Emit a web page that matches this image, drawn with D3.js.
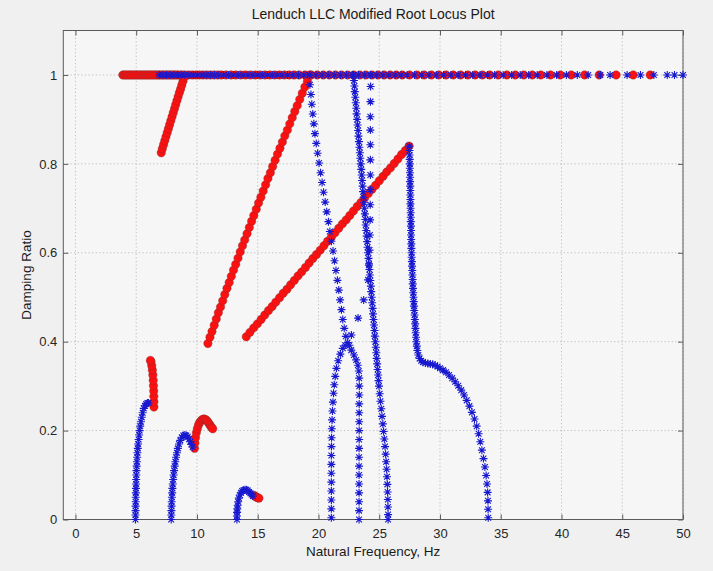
<!DOCTYPE html>
<html><head><meta charset="utf-8">
<script src="https://cdn.jsdelivr.net/npm/d3@7"></script>
<style>body{margin:0;background:#f0f0f0;} svg{display:block;}</style>
</head><body>
<svg id="chart" width="713" height="571"></svg>
<script>
// ---------- DATA (natural frequency in Hz, damping ratio) ----------
const titleText = "Lenduch LLC Modified Root Locus Plot";
const xLabelText = "Natural Frequency, Hz";
const yLabelText = "Damping Ratio";
const xTicks = [0,5,10,15,20,25,30,35,40,45,50];
const yTicks = [0,0.2,0.4,0.6,0.8,1];
const yTickLabels = ["0","0.2","0.4","0.6","0.8","1"];

// roots on the real axis (damping ratio = 1)
const redTopFreq = [3.9,4.05,4.2,4.35,4.5,4.65,4.8,4.95,5.1,5.25,5.4,5.55,5.7,5.85,6.0,6.15,6.3,6.45,6.6,6.75,6.9,7.05,7.2,7.35,7.5,7.65,7.8,7.95,8.1,8.25,8.4,8.6,8.8,9.0,9.3,9.6,9.9,10.2,10.5,10.8,11.1,11.4,11.7,12.0,12.4,12.8,13.2,13.6,14.0,14.4,14.8,15.2,15.6,16.0,16.4,16.8,17.2,17.6,18.0,18.4,18.9,19.4,19.9,20.4,20.9,21.4,21.9,22.4,22.9,23.4,23.9,24.4,24.9,25.4,25.9,26.4,26.9,27.5,28.1,28.7,29.3,29.9,30.5,31.1,31.7,32.3,32.9,33.5,34.1,34.8,35.5,36.2,36.9,37.6,38.3,39.1,39.9,40.8,41.9,43.1,44.5,45.9,47.3];
const blueTopFreq = [6.9,7.2,7.5,7.8,8.1,8.4,8.7,9.0,9.35,9.7,10.05,10.4,10.75,11.1,11.45,11.8,12.2,12.6,13.0,13.4,13.8,14.2,14.6,15.0,15.4,15.8,16.2,16.6,17.0,17.45,17.9,18.35,18.8,19.3,19.8,20.3,20.8,21.3,21.8,22.3,22.8,23.3,23.8,24.3,24.8,25.3,25.8,26.3,26.8,27.3,27.9,28.5,29.1,29.7,30.3,30.9,31.5,32.1,32.7,33.3,33.9,34.5,35.2,35.9,36.6,37.3,38.0,38.8,39.6,40.4,41.3,42.2,43.2,44.0,45.4,46.5,47.6,48.7,49.3,50.0];

// red loci (circles)
const redLoc1 = [[7.06,0.825],[7.15,0.834],[7.25,0.843],[7.35,0.852],[7.45,0.861],[7.55,0.870],[7.65,0.879],[7.75,0.888],[7.85,0.897],[7.95,0.906],[8.05,0.915],[8.15,0.924],[8.25,0.933],[8.35,0.942],[8.45,0.951],[8.55,0.960],[8.65,0.968],[8.75,0.977],[8.85,0.986],[8.95,0.995]];
const redLoc2 = [[10.90,0.396],[11.07,0.410],[11.24,0.423],[11.42,0.437],[11.59,0.451],[11.76,0.465],[11.94,0.478],[12.12,0.492],[12.29,0.506],[12.47,0.520],[12.65,0.533],[12.83,0.547],[13.01,0.561],[13.19,0.574],[13.38,0.588],[13.56,0.602],[13.75,0.616],[13.93,0.629],[14.12,0.643],[14.31,0.657],[14.50,0.671],[14.68,0.684],[14.88,0.698],[15.07,0.712],[15.26,0.725],[15.45,0.739],[15.65,0.753],[15.84,0.767],[16.04,0.780],[16.23,0.794],[16.43,0.808],[16.63,0.822],[16.83,0.835],[17.03,0.849],[17.23,0.863],[17.44,0.876],[17.64,0.890],[17.84,0.904],[18.05,0.918],[18.25,0.931],[18.46,0.945],[18.67,0.959],[18.88,0.973],[19.09,0.986],[19.30,1.000]];
const redLoc3 = [[14.06,0.411],[14.36,0.421],[14.67,0.431],[14.97,0.440],[15.28,0.450],[15.58,0.460],[15.89,0.470],[16.19,0.479],[16.49,0.489],[16.80,0.499],[17.10,0.509],[17.41,0.518],[17.71,0.528],[18.02,0.538],[18.32,0.548],[18.62,0.557],[18.93,0.567],[19.23,0.577],[19.54,0.587],[19.84,0.596],[20.15,0.606],[20.45,0.616],[20.75,0.626],[21.06,0.635],[21.36,0.645],[21.67,0.655],[21.97,0.665],[22.28,0.674],[22.58,0.684],[22.88,0.694],[23.19,0.704],[23.49,0.713],[23.80,0.723],[24.10,0.733],[24.41,0.743],[24.71,0.752],[25.01,0.762],[25.32,0.772],[25.62,0.782],[25.93,0.791],[26.23,0.801],[26.54,0.811],[26.84,0.821],[27.15,0.830],[27.45,0.840]];
const redLoc4 = [[6.46,0.253],[6.46,0.265],[6.45,0.277],[6.44,0.289],[6.42,0.301],[6.40,0.313],[6.37,0.325],[6.33,0.336],[6.28,0.346],[6.22,0.355],[6.17,0.358]];
const redLoc5 = [[9.80,0.160],[9.83,0.172],[9.88,0.184],[9.95,0.195],[10.03,0.204],[10.12,0.212],[10.22,0.218],[10.33,0.222],[10.45,0.225],[10.57,0.226],[10.69,0.225],[10.80,0.223],[10.91,0.219],[11.01,0.215],[11.11,0.211],[11.20,0.207],[11.30,0.204]];
const redLoc6 = [[14.70,0.054],[14.80,0.052],[14.90,0.050],[15.00,0.049],[15.10,0.048]];

// blue loci (asterisks)
const blueLoc1 = [[4.94,0.00],[4.94,0.01],[4.95,0.02],[4.95,0.03],[4.96,0.04],[4.96,0.05],[4.97,0.06],[4.98,0.07],[4.99,0.08],[5.00,0.09],[5.01,0.10],[5.02,0.11],[5.04,0.12],[5.06,0.13],[5.08,0.14],[5.10,0.15],[5.13,0.16],[5.16,0.17],[5.20,0.18],[5.24,0.19],[5.28,0.20],[5.33,0.21],[5.39,0.22],[5.46,0.23],[5.53,0.24],[5.62,0.25],[5.72,0.256],[5.82,0.260],[5.92,0.262],[6.02,0.262]];
const blueLoc2 = [[7.88,0.00],[7.89,0.01],[7.90,0.02],[7.91,0.03],[7.92,0.04],[7.94,0.05],[7.96,0.06],[7.98,0.07],[8.01,0.08],[8.04,0.09],[8.08,0.10],[8.12,0.11],[8.17,0.12],[8.22,0.13],[8.28,0.14],[8.35,0.15],[8.43,0.16],[8.52,0.17],[8.63,0.178],[8.75,0.185],[8.88,0.189],[9.00,0.190],[9.12,0.189],[9.24,0.186],[9.35,0.181],[9.45,0.175],[9.55,0.169],[9.65,0.163]];
const blueLoc3 = [[13.29,0.000],[13.29,0.008],[13.30,0.016],[13.32,0.024],[13.35,0.032],[13.39,0.040],[13.45,0.048],[13.53,0.055],[13.62,0.060],[13.72,0.064],[13.83,0.066],[13.95,0.067],[14.07,0.067],[14.18,0.065],[14.29,0.062],[14.40,0.059],[14.50,0.056],[14.60,0.053]];
const blueLocA = [[19.25,1.000],[19.30,0.978],[19.38,0.956],[19.45,0.934],[19.53,0.912],[19.62,0.890],[19.71,0.868],[19.82,0.846],[19.93,0.824],[20.05,0.802],[20.17,0.780],[20.30,0.758],[20.42,0.736],[20.55,0.714],[20.68,0.692],[20.82,0.670],[20.94,0.648],[21.07,0.626],[21.20,0.604],[21.32,0.582],[21.44,0.560],[21.56,0.538],[21.67,0.516],[21.78,0.494],[21.89,0.472],[22.00,0.450],[22.12,0.430],[22.25,0.412],[22.40,0.398],[22.20,0.392],[22.00,0.385],[21.80,0.372],[21.62,0.357],[21.48,0.340],[21.38,0.322],[21.30,0.303],[21.24,0.284],[21.19,0.264],[21.15,0.244],[21.12,0.224],[21.10,0.204],[21.08,0.184],[21.07,0.164],[21.06,0.144],[21.06,0.124],[21.06,0.104],[21.06,0.084],[21.06,0.064],[21.06,0.044],[21.06,0.024],[21.06,0.004]];
const blueLocD = [[24.30,1.000],[24.29,0.974],[24.28,0.940],[24.27,0.906],[24.27,0.876],[24.27,0.843],[24.27,0.809],[24.27,0.775],[24.27,0.742],[24.26,0.708],[24.25,0.674],[24.23,0.640],[24.20,0.606],[24.15,0.572],[24.08,0.539],[23.72,0.494],[23.26,0.453],[22.71,0.415],[22.55,0.392],[22.70,0.381],[22.92,0.370],[23.10,0.359],[23.24,0.347],[23.32,0.334],[23.35,0.318],[23.36,0.300],[23.36,0.280],[23.35,0.260],[23.35,0.240],[23.35,0.220],[23.35,0.200],[23.35,0.180],[23.34,0.160],[23.34,0.140],[23.34,0.120],[23.34,0.100],[23.34,0.080],[23.34,0.060],[23.34,0.040],[23.34,0.020],[23.34,0.000]];
const blueLocC = [[22.88,1.000],[22.92,0.9875],[22.96,0.975],[22.99,0.9625],[23.03,0.950],[23.07,0.9375],[23.11,0.925],[23.14,0.9125],[23.18,0.900],[23.22,0.8875],[23.26,0.875],[23.29,0.8625],[23.33,0.850],[23.37,0.8375],[23.41,0.825],[23.44,0.8125],[23.48,0.800],[23.52,0.7875],[23.56,0.775],[23.59,0.7625],[23.63,0.750],[23.67,0.7375],[23.71,0.725],[23.74,0.7125],[23.78,0.700],[23.82,0.6875],[23.86,0.675],[23.89,0.6625],[23.93,0.650],[23.97,0.6375],[24.01,0.625],[24.04,0.6125],[24.08,0.600],[24.12,0.5875],[24.16,0.575],[24.19,0.5625],[24.23,0.550],[24.27,0.5375],[24.31,0.525],[24.34,0.5125],[24.38,0.500],[24.42,0.4875],[24.46,0.475],[24.49,0.4625],[24.53,0.450],[24.57,0.4375],[24.61,0.425],[24.64,0.4125],[24.68,0.400],[24.72,0.3875],[24.76,0.375],[24.79,0.3625],[24.83,0.350],[24.87,0.3375],[24.91,0.325],[24.94,0.3125],[24.98,0.300],[25.04,0.283],[25.10,0.266],[25.17,0.249],[25.23,0.232],[25.30,0.215],[25.36,0.198],[25.42,0.181],[25.48,0.164],[25.53,0.147],[25.57,0.130],[25.61,0.113],[25.64,0.096],[25.67,0.079],[25.69,0.062],[25.71,0.045],[25.72,0.028],[25.73,0.011],[25.73,0.000]];
const blueLocE = [[27.48,0.84],[27.49,0.83],[27.50,0.82],[27.51,0.81],[27.52,0.80],[27.52,0.79],[27.53,0.78],[27.54,0.77],[27.54,0.76],[27.55,0.75],[27.56,0.74],[27.56,0.73],[27.57,0.72],[27.57,0.71],[27.58,0.70],[27.59,0.69],[27.59,0.68],[27.60,0.67],[27.61,0.66],[27.62,0.65],[27.62,0.64],[27.63,0.63],[27.64,0.62],[27.65,0.61],[27.66,0.60],[27.67,0.59],[27.69,0.58],[27.70,0.57],[27.72,0.56],[27.73,0.55],[27.75,0.54],[27.76,0.53],[27.78,0.52],[27.80,0.51],[27.82,0.50],[27.84,0.49],[27.86,0.48],[27.88,0.47],[27.91,0.46],[27.93,0.45],[27.96,0.44],[27.98,0.43],[28.00,0.42],[28.03,0.41],[28.05,0.40],[28.09,0.39],[28.14,0.38],[28.22,0.37],[28.32,0.362],[28.45,0.357],[28.60,0.354],[28.80,0.352],[29.00,0.351],[29.20,0.350],[29.40,0.349],[29.60,0.347],[29.80,0.344],[30.00,0.340],[30.25,0.336],[30.50,0.331],[30.75,0.325],[31.00,0.318],[31.25,0.310],[31.50,0.301],[31.75,0.291],[31.98,0.280],[32.20,0.268],[32.42,0.255],[32.63,0.241],[32.84,0.226],[33.02,0.210],[33.18,0.193],[33.32,0.175],[33.45,0.156],[33.58,0.137],[33.70,0.118],[33.80,0.099],[33.87,0.080],[33.92,0.061],[33.95,0.042],[33.96,0.023],[33.97,0.004]];

// ---------- DRAWING ----------
const W = 713, H = 571;
const plot = {left: 63.3, right: 683, top: 30.5, bottom: 519.5};
const svg = d3.select("#chart");
svg.append("rect").attr("width", W).attr("height", H).attr("fill", "#f0f0f0");

const x = d3.scaleLinear().domain([-1, 50]).range([plot.left, plot.right]);
const y = d3.scaleLinear().domain([0, 1.1]).range([plot.bottom, plot.top]);

svg.append("rect").attr("x", plot.left).attr("y", plot.top)
  .attr("width", plot.right - plot.left).attr("height", plot.bottom - plot.top)
  .attr("fill", "#f6f6f6");

const font = "'Liberation Sans', Arial, Helvetica, sans-serif";
const axisColor = "#5a5a5a";

// grid
const grid = svg.append("g");
grid.selectAll("line.gx").data(xTicks).join("line")
  .attr("x1", d => x(d)).attr("x2", d => x(d))
  .attr("y1", plot.top).attr("y2", plot.bottom)
  .attr("stroke", "#bdbdbd").attr("stroke-width", 1).attr("stroke-dasharray", "1.2,2.4");
grid.selectAll("line.gy").data(yTicks).join("line")
  .attr("x1", plot.left).attr("x2", plot.right)
  .attr("y1", d => y(d)).attr("y2", d => y(d))
  .attr("stroke", "#bdbdbd").attr("stroke-width", 1).attr("stroke-dasharray", "1.2,2.4");

// axes
function styleAxis(g) {
  g.select(".domain").remove();
  g.selectAll(".tick line").attr("stroke", axisColor);
  g.selectAll(".tick text").attr("fill", "#262626").attr("font-family", font).attr("font-size", 13);
}
svg.append("g").attr("transform", `translate(0,${plot.bottom})`)
  .call(d3.axisBottom(x).tickValues(xTicks).tickSize(-5).tickPadding(9).tickFormat(d3.format("d")))
  .call(styleAxis);
svg.append("g").attr("transform", `translate(0,${plot.top})`)
  .call(d3.axisTop(x).tickValues(xTicks).tickSize(-5).tickFormat(""))
  .call(styleAxis);
svg.append("g").attr("transform", `translate(${plot.left},0)`)
  .call(d3.axisLeft(y).tickValues(yTicks).tickSize(-5).tickPadding(6).tickFormat((d, i) => yTickLabels[i]))
  .call(styleAxis);
svg.append("g").attr("transform", `translate(${plot.right},0)`)
  .call(d3.axisRight(y).tickValues(yTicks).tickSize(-5).tickFormat(""))
  .call(styleAxis);

svg.append("rect").attr("x", plot.left).attr("y", plot.top)
  .attr("width", plot.right - plot.left).attr("height", plot.bottom - plot.top)
  .attr("fill", "none").attr("stroke", axisColor).attr("stroke-width", 1);

// markers
const redPoints = [].concat(
  redTopFreq.map(f => [f, 1]), redLoc1, redLoc2, redLoc3, redLoc4, redLoc5, redLoc6);
const bluePoints = [].concat(
  blueLoc1, blueLoc2, blueLoc3, blueLocA, blueLocD, blueLocC, blueLocE,
  blueTopFreq.map(f => [f, 1]));

svg.append("g").selectAll("circle").data(redPoints).join("circle")
  .attr("cx", d => x(d[0])).attr("cy", d => y(d[1])).attr("r", 4.2)
  .attr("fill", "#ff1010").attr("stroke", "rgba(110,50,50,0.55)").attr("stroke-width", 0.7);

const s = 4, dg = s * 0.72;
const starPath = `M${-s},0L${s},0M0,${-s}L0,${s}M${-dg},${-dg}L${dg},${dg}M${-dg},${dg}L${dg},${-dg}`;
svg.append("g").selectAll("path").data(bluePoints).join("path")
  .attr("transform", d => `translate(${x(d[0])},${y(d[1])})`)
  .attr("d", starPath).attr("fill", "none").attr("stroke", "#1818d0").attr("stroke-width", 1.1);

// texts
svg.append("text").attr("x", (plot.left + plot.right) / 2).attr("y", 19)
  .attr("text-anchor", "middle").attr("font-family", font).attr("font-size", 14)
  .attr("fill", "#1a1a1a").text(titleText);
svg.append("text").attr("x", (plot.left + plot.right) / 2).attr("y", 556)
  .attr("text-anchor", "middle").attr("font-family", font).attr("font-size", 13.5)
  .attr("fill", "#1a1a1a").text(xLabelText);
svg.append("text").attr("transform", `translate(31,${(plot.top + plot.bottom) / 2}) rotate(-90)`)
  .attr("text-anchor", "middle").attr("font-family", font).attr("font-size", 13.5)
  .attr("fill", "#1a1a1a").text(yLabelText);
</script>
</body></html>
